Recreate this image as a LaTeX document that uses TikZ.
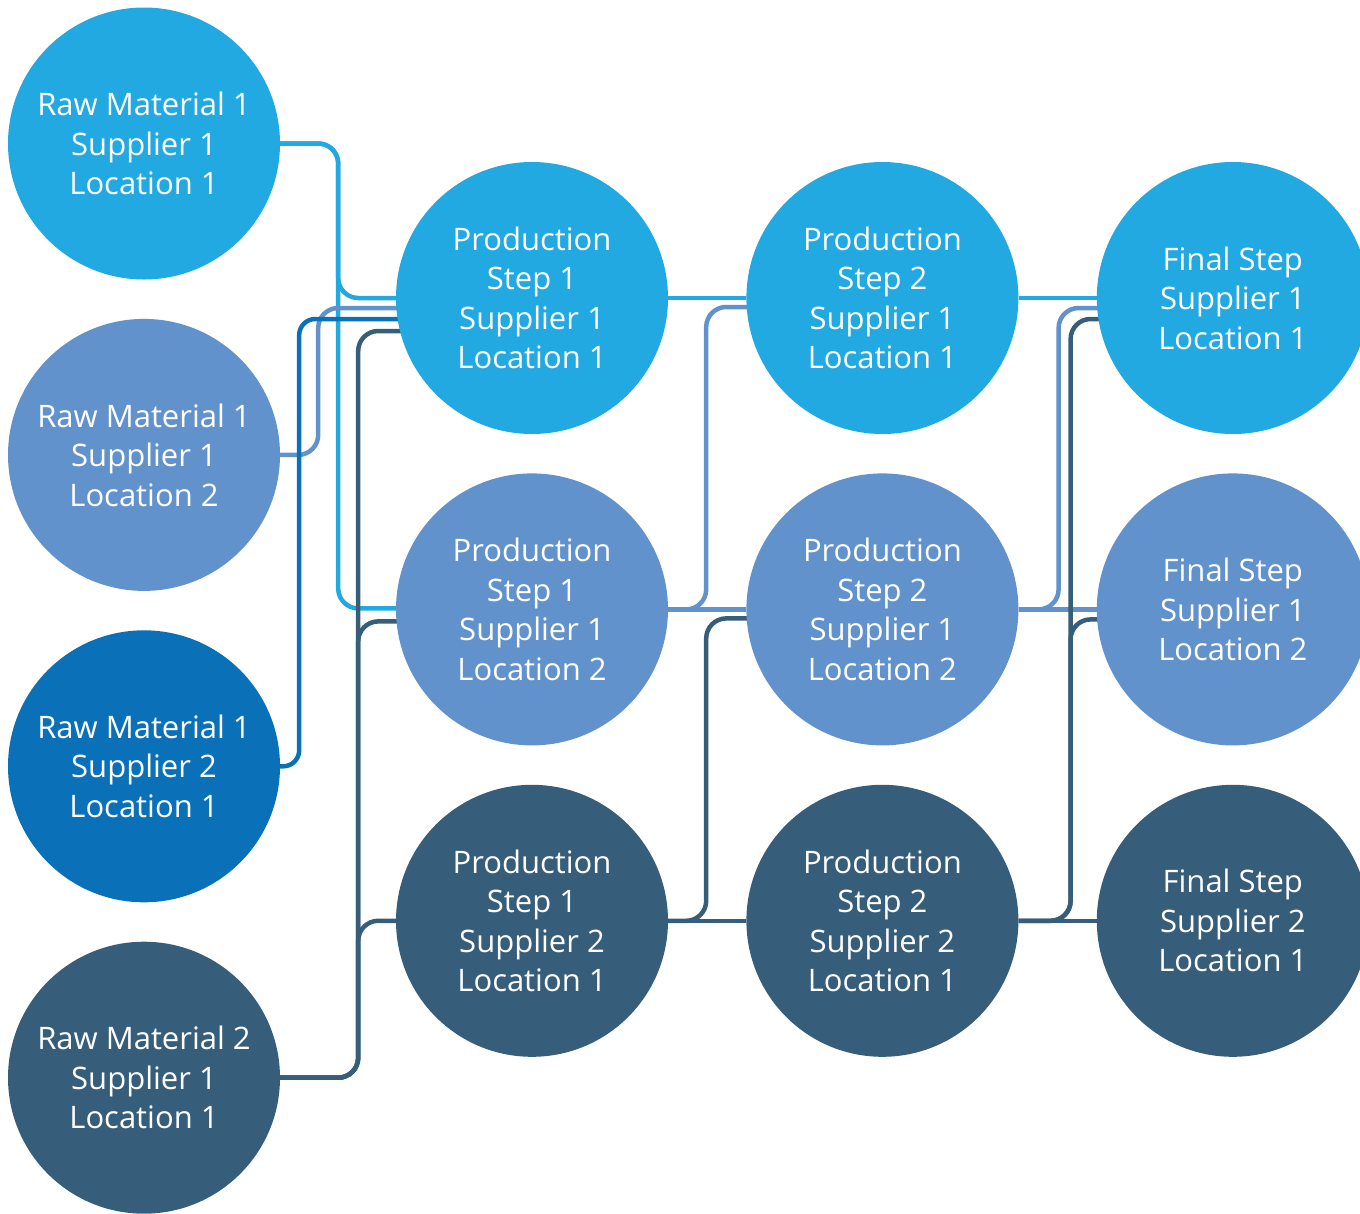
\documentclass[tikz,border=0pt]{standalone}
\usepackage{fontspec}
\setmainfont{Open Sans}
\usetikzlibrary{positioning, backgrounds}
\definecolor{cLight}{HTML}{22A9E1}
\definecolor{cMedium}{HTML}{6292CB}
\definecolor{cStrong}{HTML}{0A71B9}
\definecolor{cDark}{HTML}{365E7A}
\begin{document}
\begin{tikzpicture}[
			x = 1pt, y = 1pt,
			node distance = 39pt and 78pt,
			site/.style = {circle, minimum size = 272pt, inner sep = 0pt, text = white, align = center,
				font = \fontsize{31}{39.5}\selectfont},
			link/.style = {line width = 4.5pt, rounded corners = 20pt}
		]
		\useasboundingbox (0,0) rectangle (1360,-1213);
		% raw materials
		\node[site, fill = cLight] (rm1) at (144,-143.5) {Raw Material 1\\Supplier 1\\Location 1};
		\node[site, fill = cMedium, below = of rm1] (rm2) {Raw Material 1\\Supplier 1\\Location 2};
		\node[site, fill = cStrong, below = of rm2] (rm3) {Raw Material 1\\Supplier 2\\Location 1};
		\node[site, fill = cDark, below = of rm3] (rm4) {Raw Material 2\\Supplier 1\\Location 1};
		% production step 1
		\node[site, fill = cLight] (pa1) at (532,-298) {Production\\Step 1\\Supplier 1\\Location 1};
		\node[site, fill = cMedium, below = of pa1] (pa2) {Production\\Step 1\\Supplier 1\\Location 2};
		\node[site, fill = cDark, below = of pa2] (pa3) {Production\\Step 1\\Supplier 2\\Location 1};
		% production step 2
		\node[site, fill = cLight, right = of pa1] (pb1) {Production\\Step 2\\Supplier 1\\Location 1};
		\node[site, fill = cMedium, right = of pa2] (pb2) {Production\\Step 2\\Supplier 1\\Location 2};
		\node[site, fill = cDark, right = of pa3] (pb3) {Production\\Step 2\\Supplier 2\\Location 1};
		% final step
		\node[site, fill = cLight, right = of pb1] (fs1) {Final Step\\Supplier 1\\Location 1};
		\node[site, fill = cMedium, right = of pb2] (fs2) {Final Step\\Supplier 1\\Location 2};
		\node[site, fill = cDark, right = of pb3] (fs3) {Final Step\\Supplier 2\\Location 1};

		% trunks and entry points
		\coordinate (trunkL) at ([xshift = 58pt]rm1.east);
		\coordinate (trunkM) at ([xshift = 38pt]rm2.east);
		\coordinate (trunkS) at ([xshift = 19pt]rm3.east);
		\coordinate (trunkD) at ([xshift = 78pt]rm4.east);
		\coordinate (trunkM2) at ([xshift = 38pt]pa2.east);
		\coordinate (trunkD2) at ([xshift = 38pt]pa3.east);
		\coordinate (trunkM3) at ([xshift = 40pt]pb2.east);
		\coordinate (trunkD3) at ([xshift = 52pt]pb3.east);
		\coordinate (pa1inA) at ([xshift = 12pt]pa1.west);
		\coordinate (pa1inB) at ([xshift = 12pt, yshift = -10pt]pa1.west);
		\coordinate (pa1inC) at ([xshift = 12pt, yshift = -21pt]pa1.west);
		\coordinate (pa1inD) at ([xshift = 12pt, yshift = -33pt]pa1.west);
		\coordinate (pa2inA) at ([xshift = 12pt, yshift = 1pt]pa2.west);
		\coordinate (pa2inD) at ([xshift = 12pt, yshift = -12pt]pa2.west);
		\coordinate (pa3inD) at ([xshift = 12pt]pa3.west);
		\coordinate (pb1inB) at ([xshift = 12pt, yshift = -9pt]pb1.west);
		\coordinate (pb2inD) at ([xshift = 12pt, yshift = -9pt]pb2.west);
		\coordinate (fs1inB) at ([xshift = 12pt, yshift = -10pt]fs1.west);
		\coordinate (fs1inD) at ([xshift = 12pt, yshift = -21pt]fs1.west);
		\coordinate (fs2inD) at ([xshift = 12pt, yshift = -10pt]fs2.west);

		\begin{scope}[on background layer]
			% raw materials to step 1
			\draw[link, cLight] (rm1.east) -| (trunkL |- pa1inA) -- (pa1inA);
			\draw[link, cLight] (rm1.east) -| (trunkL |- pa2inA) -- (pa2inA);
			\draw[link, cMedium] (rm2.east) -| (trunkM |- pa1inB) -- (pa1inB);
			\draw[link, cStrong, rounded corners = 16pt] (rm3.east) -| (trunkS |- pa1inC) -- (pa1inC);
			\draw[link, cDark] (rm4.east) -| (trunkD |- pa1inD) -- (pa1inD);
			\draw[link, cDark] (rm4.east) -| (trunkD |- pa2inD) -- (pa2inD);
			\draw[link, cDark] (rm4.east) -| (trunkD |- pa3inD) -- (pa3inD);
			% step 1 to step 2
			\draw[link, cLight] (pa1.east) -- (pb1.west);
			\draw[link, cMedium] (pa2.east) -- (pb2.west);
			\draw[link, cMedium] (pa2.east) -| (trunkM2 |- pb1inB) -- (pb1inB);
			\draw[link, cDark] (pa3.east) -- (pb3.west);
			\draw[link, cDark] (pa3.east) -| (trunkD2 |- pb2inD) -- (pb2inD);
			% step 2 to final step
			\draw[link, cLight] (pb1.east) -- (fs1.west);
			\draw[link, cMedium] (pb2.east) -- (fs2.west);
			\draw[link, cMedium] (pb2.east) -| (trunkM3 |- fs1inB) -- (fs1inB);
			\draw[link, cDark] (pb3.east) -- (fs3.west);
			\draw[link, cDark] (pb3.east) -| (trunkD3 |- fs2inD) -- (fs2inD);
			\draw[link, cDark] (pb3.east) -| (trunkD3 |- fs1inD) -- (fs1inD);
		\end{scope}
	\end{tikzpicture}
\end{document}
